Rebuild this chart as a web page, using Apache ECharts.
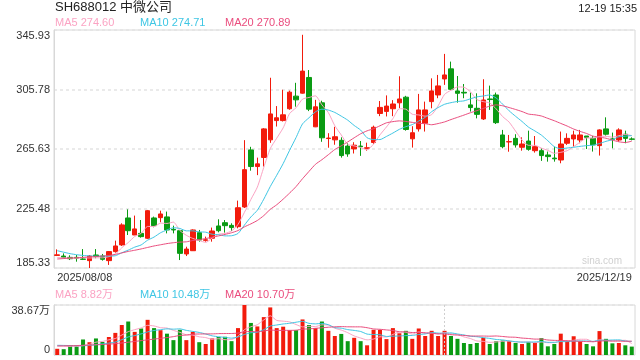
<!DOCTYPE html>
<html><head><meta charset="utf-8">
<script src="https://cdn.jsdelivr.net/npm/echarts@6/dist/echarts.min.js"></script>
<style>html,body{margin:0;padding:0;background:#fff}#c{width:640px;height:360px}</style>
</head><body><div id="c"></div>
<script>
const dates = [
'2025/08/08','2025/08/11','2025/08/12','2025/08/13','2025/08/14','2025/08/15','2025/08/18','2025/08/19','2025/08/20','2025/08/21','2025/08/22','2025/08/25','2025/08/26','2025/08/27','2025/08/28','2025/08/29',
'2025/09/01','2025/09/02','2025/09/03','2025/09/04','2025/09/05','2025/09/08','2025/09/09','2025/09/10','2025/09/11','2025/09/12','2025/09/15','2025/09/16','2025/09/17','2025/09/18','2025/09/19','2025/09/22','2025/09/23','2025/09/24','2025/09/25','2025/09/26','2025/09/29','2025/09/30',
'2025/10/09','2025/10/10','2025/10/13','2025/10/14','2025/10/15','2025/10/16','2025/10/17','2025/10/20','2025/10/21','2025/10/22','2025/10/23','2025/10/24','2025/10/27','2025/10/28','2025/10/29','2025/10/30','2025/10/31',
'2025/11/03','2025/11/04','2025/11/05','2025/11/06','2025/11/07','2025/11/10','2025/11/11','2025/11/12','2025/11/13','2025/11/14','2025/11/17','2025/11/18','2025/11/19','2025/11/20','2025/11/21','2025/11/24','2025/11/25','2025/11/26','2025/11/27','2025/11/28',
'2025/12/01','2025/12/02','2025/12/03','2025/12/04','2025/12/05','2025/12/08','2025/12/09','2025/12/10','2025/12/11','2025/12/12','2025/12/15','2025/12/16','2025/12/17','2025/12/18','2025/12/19'];

const openP = [193.8,193.4,192.5,192.5,191.4,190.3,194.1,193.4,190.3,196.4, 200.9,219.1,207.6,208.7,205.4,219.1,219.3,219.8,211.4,210.5, 194.8,197.0,209.2,204.0,205.4,213.7,215.9,214.1,213.2,226.5, 265.0,253.8,259.9,271.8,284.8,284.8,292.8,301.3,303.3,313.9, 280.6,296.8,272.7,271.8,271.5,267.6,265.7,267.6,265.9,270.0, 289.6,291.0,292.8,296.8,300.6,272.5,279.2,283.0,297.6,302.1, 312.9,319.7,304.8,303.9,295.4,293.1,285.9,299.4,302.1,275.1, 270.4,272.8,266.8,271.0,264.5,264.5,261.6,259.5,258.2,269.5, 272.4,271.7,274.4,272.8,267.9,279.2,272.4,271.7,275.6,272.4];
const closeP = [194.2,192.3,191.6,192.0,191.2,193.4,193.0,191.2,196.4,200.2, 214.4,210.5,211.7,206.5,224.0,213.9,221.8,211.0,211.0,195.2, 198.1,211.0,204.2,204.4,210.3,210.5,213.9,212.6,226.0,251.7, 253.8,255.6,279.2,289.3,286.7,288.7,304.0,298.8,318.2,292.5, 294.1,273.2,273.0,273.9,261.2,262.3,268.2,267.2,266.5,280.3, 293.7,294.6,296.0,299.4,278.8,276.6,292.0,292.0,304.8,308.2, 315.6,305.9,303.2,303.4,293.6,289.0,298.7,299.0,283.4,267.2, 270.6,268.4,269.0,265.4,267.2,261.2,260.5,259.0,269.0,272.8, 275.1,275.1,273.5,268.4,278.5,275.6,272.2,278.5,272.8,272.2];
const lowP = [193.4,191.9,190.7,189.6,190.7,185.33,191.9,190.3,187.4,195.7, 200.2,207.6,207.6,205.8,204.9,212.8,216.2,208.7,208.7,190.7, 193.4,196.8,203.1,203.1,203.1,209.4,209.2,210.3,212.1,225.8, 251.0,248.0,253.8,269.8,280.8,284.2,292.1,294.2,303.0,291.2, 280.4,270.5,266.5,268.5,259.8,260.4,262.6,261.0,264.5,269.0, 287.8,287.6,287.8,293.3,278.0,266.6,277.4,277.4,293.1,299.9, 308.9,305.0,296.9,299.9,290.9,286.3,285.2,292.0,282.5,266.1, 263.8,266.6,264.5,264.5,263.2,257.6,257.1,257.1,256.0,268.4, 267.2,269.5,265.6,263.9,261.2,274.7,266.1,270.6,269.5,271.5];
const highP = [197.9,195.2,193.9,194.1,198.1,194.1,198.1,194.8,196.8,203.8, 215.5,224.9,220.7,217.7,224.5,220.0,224.0,223.4,213.9,210.5, 199.7,211.4,211.0,206.5,212.6,218.2,217.7,215.5,230.8,271.6, 267.1,259.8,279.7,313.7,294.6,305.6,305.0,310.3,342.7,318.9, 298.8,298.2,276.3,280.6,273.5,269.6,270.2,271.0,269.9,281.4, 298.0,301.8,298.6,314.7,301.5,281.0,302.8,297.6,313.3,315.6, 329.8,324.6,314.9,309.5,303.7,303.2,312.7,308.4,303.7,278.5, 275.1,275.6,273.5,278.0,274.4,266.1,263.9,267.2,277.4,276.2, 278.0,278.5,274.4,274.4,278.9,287.0,276.7,279.6,278.0,273.5];

const ma5 = [192.4,192.2,192.0,192.0,192.3,192.1,192.2,192.2,193.0,194.8, 199.0,202.5,206.6,208.7,213.4,213.3,215.6,215.4,216.3,210.6, 207.4,205.3,203.9,202.6,205.6,208.1,208.7,210.3,214.7,222.9, 231.6,239.9,253.3,265.9,272.9,279.9,289.6,293.5,299.3,300.4, 301.5,295.4,290.2,281.3,275.1,268.7,267.7,266.6,265.1,268.9, 275.2,280.5,286.2,292.8,292.5,289.1,288.6,287.8,288.8,294.7, 302.5,305.3,307.5,307.3,304.3,299.0,297.6,296.7,292.7,287.5, 283.8,277.7,271.7,268.1,268.1,266.2,264.7,262.7,263.4,264.5, 267.3,270.2,273.1,273.0,274.1,274.2,273.6,274.6,275.5,274.6];
const ma10 = [197.0,196.0,195.0,194.3,193.8,193.5,193.3,193.3,193.4,193.6, 195.6,197.4,199.4,200.9,204.1,206.2,209.1,211.0,212.5,212.0, 210.4,210.4,209.7,209.5,208.1,207.8,207.0,207.1,208.6,214.3, 219.8,224.3,231.8,240.3,247.9,255.8,264.8,273.4,282.6,286.7, 290.7,292.5,291.9,290.3,287.8,285.1,281.5,278.4,273.2,272.0, 272.0,274.1,276.4,278.9,280.7,282.1,284.5,287.0,290.8,293.6, 295.8,296.9,297.7,298.1,299.5,300.8,301.4,302.1,300.0,295.9, 291.4,287.7,284.2,280.4,277.8,275.0,271.2,267.2,265.8,266.3, 266.8,267.4,267.9,268.2,269.3,270.8,271.9,273.9,274.3,274.7];
const ma20 = [191.4,191.7,192.0,192.2,192.5,192.8,193.1,193.4,193.8,194.5, 195.5,196.5,197.3,198.2,199.2,200.2,201.0,201.8,202.4,202.8, 203.0,203.9,204.5,205.2,206.1,207.0,208.0,209.1,210.6,213.1, 215.1,217.4,220.7,224.9,228.0,231.8,235.9,240.3,245.6,250.5, 255.3,258.4,261.8,265.3,267.8,270.4,273.2,275.9,277.9,279.3, 281.3,283.3,284.1,284.6,284.2,283.6,283.0,282.7,282.0,282.8, 283.9,285.5,287.0,288.5,290.1,291.5,293.0,294.6,295.4,294.8, 293.6,292.3,290.9,289.2,288.7,287.9,286.3,284.7,282.9,281.1, 279.1,277.5,276.1,274.3,273.6,272.9,271.6,270.5,270.0,270.9];

const volume = [4.8,4.5,7.5,7.5,12.0,9.9,12.8,10.1,13.9,17.1, 23.2,25.9,17.9,20.5,27.2,20.8,19.2,16.5,11.5,19.5, 11.5,17.9,9.9,8.5,12.8,13.9,14.1,10.7,20.8,38.67, 24.8,22.1,29.3,36.8,20.8,21.9,19.2,19.2,27.5,23.2, 20.8,25.9,18.7,14.7,16.3,10.7,13.3,10.7,7.5,19.5, 19.5,12.3,20.8,16.8,18.7,12.5,20.5,14.7,18.7,14.7, 18.7,14.7,12.5,9.3,8.5,9.3,13.3,8.5,10.7,11.2, 10.7,9.3,8.5,10.1,9.3,13.0,6.7,8.5,16.5,10.7, 14.5,10.7,8.5,6.7,18.5,12.5,9.0,9.3,7.5,6.5];
const volMa5 = [7.0,6.8,6.6,6.6,7.26,8.28,9.94,10.46,11.74,12.76, 15.42,18.04,19.6,20.92,22.94,22.46,21.12,20.84,19.04,17.5, 15.64,15.38,14.06,13.46,12.12,12.6,11.84,12.0,14.46,19.63, 21.81,23.41,27.13,30.33,26.76,26.18,25.6,23.58,21.72,22.2, 21.98,23.32,23.22,20.66,19.28,17.26,14.74,13.14,11.7,12.34, 14.1,13.9,15.92,17.78,17.62,16.22,17.86,16.64,17.02,16.22, 17.46,16.3,15.86,13.98,12.74,10.86,10.58,9.78,10.06,10.6, 10.88,10.08,10.08,9.96,9.58,10.04,9.52,9.52,10.8,11.08, 11.38,12.18,12.18,10.22,11.78,11.38,11.04,11.2,11.36,8.82];
const volMa10 = [7.5,7.4,7.3,7.2,7.2,7.4,8.0,8.6,9.2,10.01, 11.85,13.99,15.03,16.33,17.85,18.94,19.58,20.22,19.98,20.22, 19.05,18.25,17.45,16.25,14.81,14.12,13.61,13.03,13.96,15.88, 17.21,17.63,19.57,22.4,23.2,24.0,24.51,25.36,26.03,24.48, 24.08,24.46,23.4,21.19,20.74,19.62,19.03,18.18,16.18,15.81, 15.68,14.32,14.53,14.74,14.98,15.16,15.88,16.28,17.4,16.92, 16.84,17.08,16.25,15.5,14.48,14.16,13.44,12.82,12.02,11.67, 10.87,10.33,9.93,10.01,10.09,10.46,9.8,9.8,10.38,10.33, 10.71,10.85,10.85,10.51,11.43,11.38,11.61,11.69,10.79,10.48];
const volMa20 = [7.0,7.1,7.2,7.3,7.5,7.7,7.9,8.1,8.4,8.8, 9.3,9.9,10.5,11.1,11.7,12.3,12.9,13.5,14.2,15.12, 15.45,16.12,16.24,16.29,16.33,16.53,16.6,16.63,16.97,18.05, 18.13,17.94,18.51,19.32,19.0,19.06,19.06,19.19,19.99,20.18, 20.64,21.04,21.48,21.79,21.97,21.81,21.77,21.77,21.1,20.15, 19.88,19.39,18.97,17.97,17.86,17.39,17.46,17.23,16.79,16.37, 16.26,15.7,15.39,15.12,14.73,14.66,14.66,14.55,14.71,14.3, 13.86,13.71,13.09,12.76,12.29,12.31,11.62,11.31,11.2,11.0, 10.79,10.59,10.39,10.26,10.76,10.92,10.71,10.75,10.59,10.70];

const priceTicks = [185.33, 225.48, 265.63, 305.78, 345.93];
const volTicks = [0, 38.67];
const markIndex = 60;

const UP = '#f21b0c', DOWN = '#0a9b13';
const C5 = '#fba3c3', C10 = '#3ec6e4', C20 = '#ea4d7e';
const FONT = 'Arial, "Liberation Sans", "Noto Sans CJK SC", sans-serif';

const kData = openP.map((o, i) => [o, closeP[i], lowP[i], highP[i]]);
const volData = volume.map((v, i) => ({ value: v, itemStyle: { color: closeP[i] >= openP[i] ? UP : DOWN } }));

const chart = echarts.init(document.getElementById('c'), null, { renderer: 'canvas' });
const lineS = (name, data, color, xi, yi) => ({
  type: 'line', name, data, xAxisIndex: xi, yAxisIndex: yi, symbol: 'none', smooth: 0.2,
  lineStyle: { width: 1, color }, itemStyle: { color }, silent: true, z: 5
});
const yLabel = (fmt) => ({
  show: true, color: '#333', fontSize: 11, fontFamily: FONT, margin: 4,
  verticalAlignMinLabel: 'bottom', verticalAlignMaxLabel: 'top', formatter: fmt
});
chart.setOption({
  animation: false,
  backgroundColor: '#fff',
  textStyle: { fontFamily: FONT },
  grid: [
    { left: 54, top: 30, width: 581, height: 238, show: true, borderColor: '#d8d8d8', borderWidth: 1 },
    { left: 54, top: 305, width: 581, height: 50, show: true, borderColor: '#d8d8d8', borderWidth: 1 }
  ],
  xAxis: [
    { type: 'category', gridIndex: 0, data: dates, boundaryGap: true,
      axisLine: { show: false }, axisTick: { show: false }, splitLine: { show: false },
      axisLabel: { show: true, color: '#333', fontSize: 11, margin: 4,
        interval: (idx) => idx === 0 || idx === dates.length - 1,
        alignMinLabel: 'left', alignMaxLabel: 'right' } },
    { type: 'category', gridIndex: 1, data: dates, boundaryGap: true,
      axisLine: { show: false }, axisTick: { show: false }, axisLabel: { show: false }, splitLine: { show: false } }
  ],
  yAxis: [
    { type: 'value', gridIndex: 0, min: priceTicks[0], max: priceTicks[priceTicks.length - 1],
      axisLine: { show: true, lineStyle: { color: '#d8d8d8' } },
      axisTick: { show: false, customValues: priceTicks },
      axisLabel: Object.assign(yLabel((v) => v.toFixed(2)), { customValues: priceTicks }),
      splitLine: { show: true, lineStyle: { color: '#e4e4e4', type: [3, 3], width: 1.5 } } },
    { type: 'value', gridIndex: 1, min: volTicks[0], max: volTicks[1],
      axisLine: { show: true, lineStyle: { color: '#d8d8d8' } },
      axisTick: { show: false, customValues: volTicks },
      axisLabel: Object.assign(yLabel((v) => v === 0 ? '0' : v.toFixed(2) + '万'), { customValues: volTicks }),
      splitLine: { show: true, lineStyle: { color: '#e4e4e4', type: [3, 3], width: 1.5 } } }
  ],
  series: [
    { type: 'candlestick', name: 'K', data: kData, xAxisIndex: 0, yAxisIndex: 0, barWidth: 5,
      itemStyle: { color: UP, color0: DOWN, borderColor: UP, borderColor0: DOWN, borderWidth: 1 }, silent: true },
    lineS('MA5', ma5, C5, 0, 0),
    lineS('MA10', ma10, C10, 0, 0),
    lineS('MA20', ma20, C20, 0, 0),
    { type: 'bar', name: 'VOL', data: volData, xAxisIndex: 1, yAxisIndex: 1, barWidth: 4, silent: true,
      markLine: { silent: true, symbol: 'none', label: { show: false },
        lineStyle: { color: '#cfcfcf', type: [2, 2], width: 1 },
        data: [{ xAxis: markIndex }] } },
    lineS('VMA5', volMa5, C5, 1, 1),
    lineS('VMA10', volMa10, C10, 1, 1),
    lineS('VMA20', volMa20, C20, 1, 1)
  ],
  graphic: [
    { type: 'text', left: 55, top: 1, style: { text: 'SH688012 中微公司', fill: '#222', font: '13px ' + FONT } },
    { type: 'text', right: 3, top: 3, style: { text: '12-19 15:35', fill: '#222', font: '11px ' + FONT } },
    { type: 'text', left: 55, top: 17, style: { text: 'MA5 274.60', fill: C5, font: '11px ' + FONT } },
    { type: 'text', left: 140, top: 17, style: { text: 'MA10 274.71', fill: C10, font: '11px ' + FONT } },
    { type: 'text', left: 225, top: 17, style: { text: 'MA20 270.89', fill: C20, font: '11px ' + FONT } },
    { type: 'text', left: 55, top: 289, style: { text: 'MA5 8.82万', fill: C5, font: '11px ' + FONT } },
    { type: 'text', left: 140, top: 289, style: { text: 'MA10 10.48万', fill: C10, font: '11px ' + FONT } },
    { type: 'text', left: 225, top: 289, style: { text: 'MA20 10.70万', fill: C20, font: '11px ' + FONT } },
    { type: 'text', left: 582, top: 256, style: { text: 'sina.com', fill: '#d0d0d0', font: '10px ' + FONT } }
  ]
});
</script></body></html>
